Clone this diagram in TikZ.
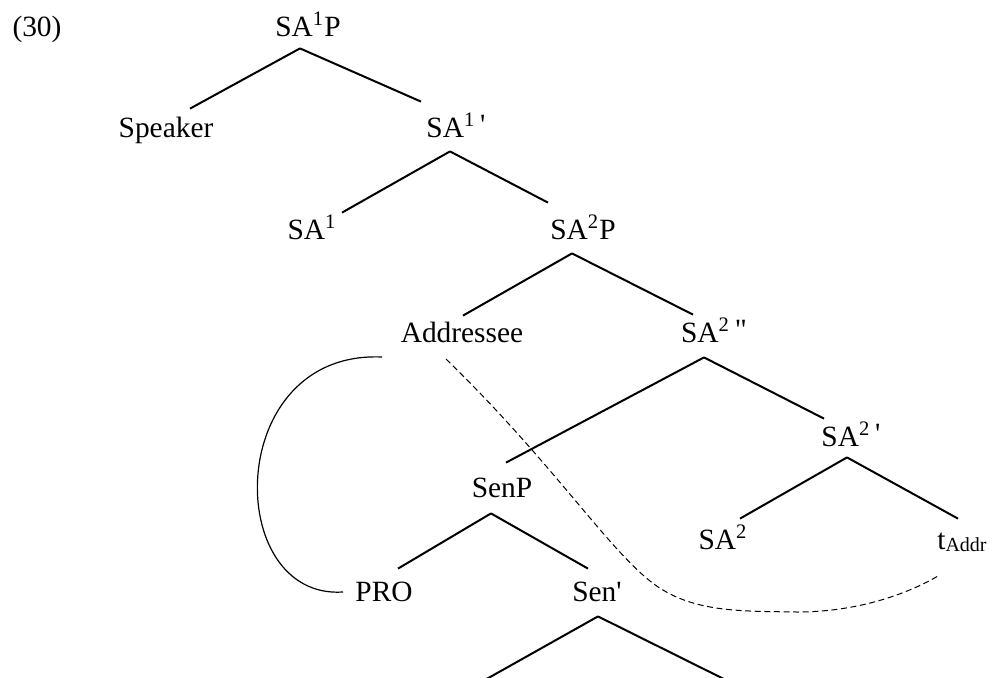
\documentclass[tikz,border=0pt]{standalone}
\usepackage{fontspec}
\setmainfont{Liberation Serif}
\newfontfamily\qtfont{Liberation Serif}
\usepackage{tikz}

\newcommand{\upqt}[1]{\,\raisebox{1.5pt}{\qtfont#1}}

\begin{document}
\begin{tikzpicture}[x=0.5pt,y=-0.5pt,font=\fontsize{14.7}{18}\selectfont,
    lbl/.style={inner sep=0pt,anchor=base,text height=15pt,text depth=7pt},
    branch/.style={line width=1pt},
    bind/.style={line width=0.6pt},
    trace/.style={line width=0.5pt,dash pattern=on 3pt off 1.8pt}]
    \useasboundingbox (0,0) rectangle (1003,677);

    \node[lbl] (ex) at (37,36) {(30)};
    \node[lbl] (sa1p) at (308,36) {SA\textsuperscript{1}P};
    \node[lbl] (speaker) at (166,137) {Speaker};
    \node[lbl] (sa1bar) at (456,137) {SA\textsuperscript{1}\upqt{'}};
    \node[lbl] (sa1) at (312,239) {SA\textsuperscript{1}};
    \node[lbl] (sa2p) at (583,239) {SA\textsuperscript{2}P};
    \node[lbl] (addr) at (462,342) {Addressee};
    \node[lbl] (sa2bb) at (714,342) {SA\textsuperscript{2}\upqt{"}};
    \node[lbl] (sa2bar) at (851,446) {SA\textsuperscript{2}\upqt{'}};
    \node[lbl] (senp) at (502,497) {SenP};
    \node[lbl] (sa2) at (723,549) {SA\textsuperscript{2}};
    \node[lbl] (taddr) at (962,549) {t\raisebox{-1pt}{\fontsize{10}{12}\selectfont Addr}};
    \node[lbl] (pro) at (384,601) {PRO};
    \node[lbl] (senbar) at (597,601) {Sen{\qtfont'}};

    % lower branches of Sen' run off the page
    \coordinate (senl) at (467,690);
    \coordinate (senr) at (746,690);

    \path[branch]
        ([shift={(-8,-2)}]sa1p.south) edge ([shift={(24,2)}]speaker.north)
                                      edge ([shift={(-35,-5)}]sa1bar.north)
        ([shift={(-6,0)}]sa1bar.south) edge ([shift={(30,4)}]sa1.north)
                                       edge ([shift={(-35,-6)}]sa2p.north)
        ([shift={(-11,0)}]sa2p.south) edge ([shift={(1,4)}]addr.north)
                                      edge ([shift={(-21,3)}]sa2bb.north)
        ([shift={(-10,1)}]sa2bb.south) edge ([shift={(4,-4)}]senp.north)
                                       edge ([shift={(-27,3)}]sa2bar.north)
        ([shift={(-4,-3)}]sa2bar.south) edge ([shift={(17,0)}]sa2.north)
                                        edge ([shift={(-4,0)}]taddr.north)
        ([shift={(-11,2)}]senp.south) edge ([shift={(14,-2)}]pro.north)
                                      edge ([shift={(-9,-2)}]senbar.north)
        ([shift={(1,1)}]senbar.south) edge (senl)
                                      edge (senr);

    % binding arc Addressee -- PRO
    \draw[bind] ([shift={(-80,15)}]addr.base)
        .. controls (223,350) and (223,600) .. ([shift={(-41,-9)}]pro.base);

    % movement of the addressee from its trace
    \draw[trace] ([shift={(-16,17)}]addr.base)
        .. controls (550,460) and (605,545) .. (650,581)
        .. controls (690,613) and (740,611) .. (797,612)
        .. controls (850,612) and (900,598) .. ([shift={(-24,27)}]taddr.base);
\end{tikzpicture}
\end{document}
